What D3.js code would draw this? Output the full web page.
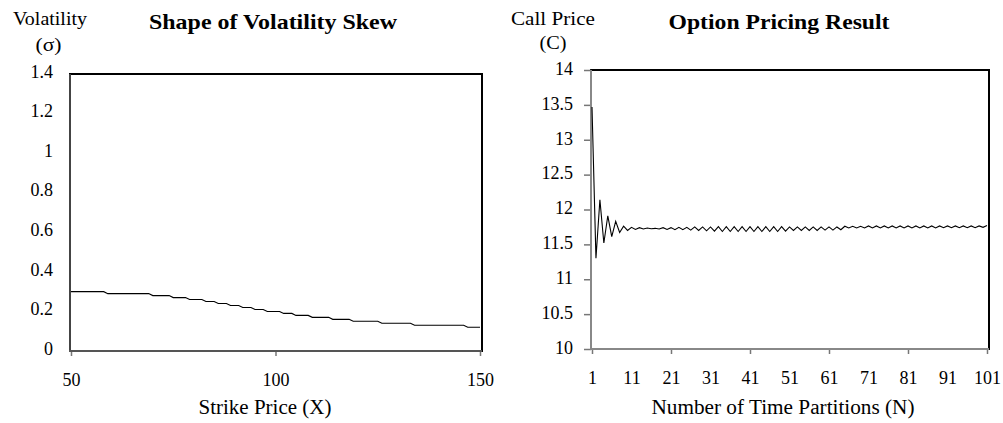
<!DOCTYPE html>
<html>
<head>
<meta charset="utf-8">
<script src="https://cdn.jsdelivr.net/npm/d3@7"></script>
<style>
body { margin: 0; background: #fff; }
svg, svg text { font-family: "Liberation Serif", "Times New Roman", serif; }
</style>
</head>
<body>
<svg id="chart" width="1003" height="423"></svg>
<script>
// left chart: volatility skew sampled at integer strikes 50..150
const strikes = d3.range(50, 151);
const volatility = [
  0.30, 0.30, 0.30, 0.30, 0.30, 0.30, 0.30, 0.30, 0.30,
  0.29, 0.29, 0.29, 0.29, 0.29, 0.29, 0.29, 0.29, 0.29, 0.29, 0.29,
  0.28, 0.28, 0.28, 0.28, 0.28,
  0.27, 0.27, 0.27, 0.27,
  0.26, 0.26, 0.26, 0.26,
  0.25, 0.25, 0.25,
  0.24, 0.24, 0.24,
  0.23, 0.23, 0.23,
  0.22, 0.22, 0.22,
  0.21, 0.21, 0.21,
  0.20, 0.20, 0.20, 0.20,
  0.19, 0.19, 0.19,
  0.18, 0.18, 0.18, 0.18,
  0.17, 0.17, 0.17, 0.17, 0.17,
  0.16, 0.16, 0.16, 0.16, 0.16,
  0.15, 0.15, 0.15, 0.15, 0.15, 0.15, 0.15,
  0.14, 0.14, 0.14, 0.14, 0.14, 0.14, 0.14, 0.14,
  0.13, 0.13, 0.13, 0.13, 0.13, 0.13, 0.13, 0.13, 0.13, 0.13, 0.13, 0.13, 0.13,
  0.12, 0.12, 0.12, 0.12
];
const volTicks = [0, 0.2, 0.4, 0.6, 0.8, 1, 1.2, 1.4];
const strikeTicks = [50, 100, 150];

// right chart: call price vs number of time partitions 1..101
const partitions = d3.range(1, 102);
const callPrice = [
  13.47, 11.30, 12.14, 11.52, 11.91, 11.61, 11.83, 11.67, 11.76, 11.70,
  11.745, 11.715, 11.74, 11.72, 11.735, 11.725, 11.73, 11.72, 11.74, 11.715,
  11.74, 11.71, 11.745, 11.71, 11.745, 11.705, 11.75, 11.70, 11.75, 11.695,
  11.75, 11.69, 11.755, 11.685, 11.755, 11.685, 11.755, 11.685, 11.755, 11.685,
  11.755, 11.685, 11.755, 11.685, 11.755, 11.685, 11.755, 11.685, 11.755, 11.69,
  11.75, 11.70, 11.75, 11.70, 11.75, 11.70, 11.75, 11.70, 11.75, 11.705,
  11.75, 11.705, 11.75, 11.71, 11.76, 11.735, 11.76, 11.735, 11.76, 11.735,
  11.765, 11.735, 11.765, 11.735, 11.765, 11.735, 11.765, 11.735, 11.765, 11.735,
  11.765, 11.735, 11.765, 11.735, 11.765, 11.735, 11.765, 11.735, 11.765, 11.74,
  11.765, 11.74, 11.765, 11.74, 11.765, 11.74, 11.765, 11.74, 11.765, 11.745,
  11.77
];
const priceTicks = [10, 10.5, 11, 11.5, 12, 12.5, 13, 13.5, 14];
const partLabelTicks = [1, 11, 21, 31, 41, 51, 61, 71, 81, 91, 101];
const partMarkTicks = [1, 21, 41, 61, 81, 101];

const svg = d3.select("#chart");
const serif = '"Liberation Serif", "Times New Roman", serif';

const styleAxis = function (g) {
    g.attr("font-family", serif).attr("font-size", 18);
    g.select(".domain").remove();
    g.selectAll("text").attr("fill", "#000")
        .style("font-family", serif).style("font-size", "18px");
    g.selectAll("line").attr("stroke", "#777").attr("stroke-width", 1.5);
}

const label = function (x, y, txt, size, len, bold, anchor) {
    svg.append("text")
        .attr("x", x).attr("y", y)
        .attr("text-anchor", anchor || "middle")
        .attr("textLength", len)
        .attr("lengthAdjust", "spacingAndGlyphs")
        .style("font-family", serif)
        .style("font-size", size + "px")
        .style("font-weight", bold ? "bold" : "normal")
        .text(txt);
}

// ---------- left chart ----------
const xL = d3.scaleLinear().domain([50, 150]).range([71, 480]);
const yL = d3.scaleLinear().domain([0, 1.4]).range([351, 74]);

svg.append("rect")
    .attr("x", 70).attr("y", 74).attr("width", 412).attr("height", 277)
    .attr("fill", "none").attr("stroke", "#000").attr("stroke-width", 2);

svg.append("g")
    .attr("transform", "translate(70,0)")
    .call(d3.axisLeft(yL).tickValues(volTicks).tickSize(0).tickPadding(17)
        .tickFormat(d3.format("")))
    .call(styleAxis)
    .selectAll("text").attr("dy", "0.18em");

svg.append("g")
    .attr("transform", "translate(0,351)")
    .call(d3.axisBottom(xL).tickValues(strikeTicks).tickSize(5).tickPadding(17))
    .call(styleAxis);

svg.append("line").attr("x1", 70).attr("x2", 70).attr("y1", 74).attr("y2", 351)
    .attr("stroke", "#444").attr("stroke-width", 2);
svg.append("line").attr("x1", 69).attr("x2", 482).attr("y1", 351).attr("y2", 351)
    .attr("stroke", "#555").attr("stroke-width", 2);

svg.append("path")
    .datum(strikes.map((s, i) => [s, volatility[i]]))
    .attr("fill", "none").attr("stroke", "#000").attr("stroke-width", 1.1)
    .attr("d", d3.line().x(d => xL(d[0])).y(d => yL(d[1])));

label(50, 25, "Volatility", 18, 74, false);
label(48.5, 51, "(\u03C3)", 18, 26, false);
label(273, 29, "Shape of Volatility Skew", 21, 248, true);
label(265, 414, "Strike Price (X)", 20, 133, false);

// ---------- right chart ----------
const xR = d3.scaleLinear().domain([1, 101]).range([592, 987]);
const yR = d3.scaleLinear().domain([10, 14]).range([349, 70]);

svg.append("rect")
    .attr("x", 591).attr("y", 70).attr("width", 398).attr("height", 279)
    .attr("fill", "none").attr("stroke", "#000").attr("stroke-width", 2);

svg.append("g")
    .attr("transform", "translate(591,0)")
    .call(d3.axisLeft(yR).tickValues(priceTicks).tickSize(7).tickPadding(11)
        .tickFormat(d3.format("")))
    .call(styleAxis)
    .selectAll("text").attr("dy", "0.24em");

svg.append("g")
    .attr("transform", "translate(0,349)")
    .call(d3.axisBottom(xR).tickValues(partLabelTicks).tickSize(0).tickPadding(22))
    .call(styleAxis);

svg.append("g")
    .attr("transform", "translate(0,349)")
    .call(d3.axisBottom(xR).tickValues(partMarkTicks).tickSize(5).tickFormat(""))
    .call(styleAxis);

svg.append("line").attr("x1", 591).attr("x2", 591).attr("y1", 70).attr("y2", 349)
    .attr("stroke", "#888").attr("stroke-width", 2);
svg.append("line").attr("x1", 590).attr("x2", 989).attr("y1", 349).attr("y2", 349)
    .attr("stroke", "#888").attr("stroke-width", 2);

svg.append("path")
    .datum(partitions.map((n, i) => [n, callPrice[i]]))
    .attr("fill", "none").attr("stroke", "#000").attr("stroke-width", 1.1)
    .attr("d", d3.line().x(d => xR(d[0])).y(d => yR(d[1])));

label(553, 25, "Call Price", 18, 84, false);
label(553, 49, "(C)", 18, 27, false);
label(779, 29, "Option Pricing Result", 21, 221, true);
label(783, 414, "Number of Time Partitions (N)", 20, 263, false);
</script>
</body>
</html>
